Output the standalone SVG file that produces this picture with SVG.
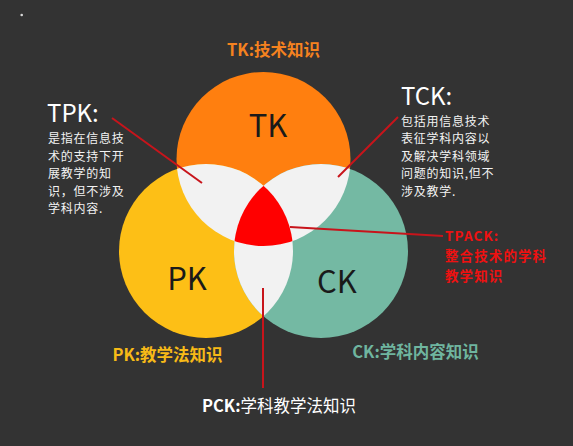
<svg xmlns="http://www.w3.org/2000/svg" width="573" height="446" viewBox="0 0 573 446">
<style>
text{font-family:"Noto Sans CJK SC","Noto Sans",sans-serif}
.big{font-size:31px;fill:#1a1a1a;text-anchor:middle}
.lbl{font-size:16.5px;font-weight:bold;text-anchor:middle}
.head{font-size:24px;fill:#ffffff}
.body{font-size:12px;letter-spacing:0.75px;fill:#f2f2f2}
.red{font-size:13.5px;letter-spacing:1.1px;font-weight:bold;fill:#ee1111}
.conn line{stroke:#c8141b;stroke-width:2}
</style>
<defs>
<clipPath id="cT"><circle cx="263.5" cy="159" r="87"/></clipPath>
<clipPath id="cP"><circle cx="206" cy="251" r="87"/></clipPath>
</defs>
<rect width="573" height="446" fill="#333333"/>
<circle cx="21.7" cy="15" r="1.3" fill="#d8d8d8"/>
<g id="venn">
<circle id="tk" cx="263.5" cy="159" r="87" fill="#ff7f0f"/>
<circle id="pk" cx="206" cy="251" r="87" fill="#fdbf16"/>
<circle id="ck" cx="321" cy="251" r="87" fill="#74b9a3"/>
<circle id="tpk" cx="206" cy="251" r="87" fill="#f2f2f2" clip-path="url(#cT)"/>
<circle id="tck" cx="321" cy="251" r="87" fill="#f2f2f2" clip-path="url(#cT)"/>
<circle id="pck" cx="321" cy="251" r="87" fill="#f2f2f2" clip-path="url(#cP)"/>
<g id="tpack" clip-path="url(#cT)"><circle cx="321" cy="251" r="87" fill="#ff0000" clip-path="url(#cP)"/></g>
</g>
<g id="circle-labels">
<text class="big" x="268" y="137">TK</text>
<text class="big" x="187" y="290">PK</text>
<text class="big" x="337" y="293">CK</text>
</g>
<g class="conn" id="connectors">
<line x1="112" y1="118" x2="202" y2="183"/>
<line x1="398" y1="117" x2="338" y2="177"/>
<line x1="290" y1="227" x2="443" y2="236"/>
<line x1="263" y1="288" x2="263" y2="388"/>
</g>
<g id="tk-label"><text class="lbl" x="273.5" y="56" fill="#f5821f">TK:技术知识</text></g>
<g id="pk-label"><text class="lbl" x="167.5" y="361" fill="#f7ba17">PK:教学法知识</text></g>
<g id="ck-label"><text class="lbl" x="415.5" y="358" fill="#6fb59f">CK:学科内容知识</text></g>
<g id="pck-label"><text x="279" y="412" font-size="16.5" fill="#ffffff" text-anchor="middle"><tspan font-weight="bold">PCK:</tspan>学科教学法知识</text></g>
<g id="tpk-label">
<text class="head" x="47" y="122">TPK:</text>
<text class="body" x="48" y="143">是指在信息技</text>
<text class="body" x="48" y="160.5">术的支持下开</text>
<text class="body" x="48" y="178">展教学的知</text>
<text class="body" x="48" y="195.5">识，但不涉及</text>
<text class="body" x="48" y="213">学科内容.</text>
</g>
<g id="tck-label">
<text class="head" x="401" y="105">TCK:</text>
<text class="body" x="401" y="125.5">包括用信息技术</text>
<text class="body" x="401" y="143">表征学科内容以</text>
<text class="body" x="401" y="160.5">及解决学科领域</text>
<text class="body" x="401" y="178">问题的知识,但不</text>
<text class="body" x="401" y="195.5">涉及教学.</text>
</g>
<g id="tpack-label">
<text class="red" x="445" y="241">TPACK:</text>
<text class="red" x="445" y="261">整合技术的学科</text>
<text class="red" x="445" y="281">教学知识</text>
</g>
</svg>
